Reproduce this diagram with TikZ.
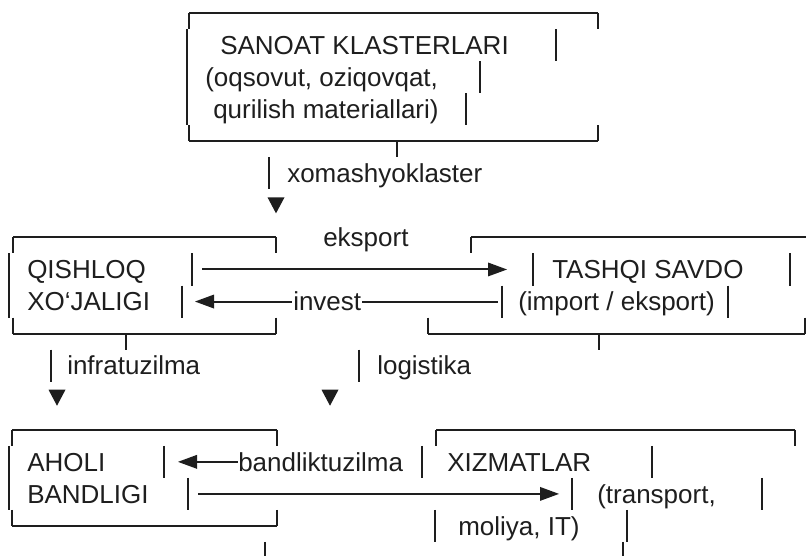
\documentclass[tikz,border=0pt]{standalone}
\usepackage{fontspec}
\setmainfont{Liberation Sans}
\newcommand\Y[1]{13+32.06*(#1)}
\begin{document}
\begin{tikzpicture}[x=0.75pt,y=-0.75pt]
\definecolor{ink}{RGB}{30,30,30}
\tikzset{
  ln/.style={draw=ink,line width=1.5pt},
  txt/.style={anchor=base west,inner sep=0pt,text=ink,font=\fontsize{19.5}{23}\selectfont},
  tri/.style={fill=ink}
}
\useasboundingbox (0,0) rectangle (806,556);
% helpers
\newcommand\mybar[3][]{\draw[ln] (#2,{\Y{#3}-16.03}) -- (#2,{\Y{#3}+16.03});}
\newcommand\tickdn[2]{\draw[ln] (#1,{\Y{#2}}) -- (#1,{\Y{#2}+16.03});}
\newcommand\tickup[2]{\draw[ln] (#1,{\Y{#2}-16.03}) -- (#1,{\Y{#2}});}
\newcommand\hl[3]{\draw[ln] (#1,{\Y{#3}}) -- (#2,{\Y{#3}});}
\newcommand\tridown[2]{\fill[tri] (#1-8.5,{\Y{#2}-8}) -- (#1+8.5,{\Y{#2}-8}) -- (#1,{\Y{#2}+8}) -- cycle;}
\newcommand\triright[2]{\fill[tri] (#1-19,{\Y{#2}-7}) -- (#1,{\Y{#2}}) -- (#1-19,{\Y{#2}+7}) -- cycle;}
\newcommand\trileft[2]{\fill[tri] (#1+19,{\Y{#2}-7}) -- (#1,{\Y{#2}}) -- (#1+19,{\Y{#2}+7}) -- cycle;}

% ---------- top box: SANOAT KLASTERLARI ----------
\hl{189}{598}{0}
\tickdn{189}{0}\tickdn{598}{0}
\draw[ln] (187,{\Y{1}-16.03}) -- (187,{\Y{3}+16.03});
\tickup{189}{4}\tickup{598}{4}
\hl{189}{598}{4}
\tickdn{397}{4}
\node[txt] (sanoat) at (220,{\Y{1}+9.3}) {SANOAT KLASTERLARI};
\mybar{556}{1}
\node[txt] (oqsovut) at (205,{\Y{2}+9.3}) {(oqsovut, oziqovqat,};
\mybar{480}{2}
\node[txt] (qurilish) at (213,{\Y{3}+9.3}) {qurilish materiallari)};
\mybar{466}{3}

% xomashyoklaster
\mybar{269}{5}
\node[txt] (xomashyo) at (287,{\Y{5}+9.3}) {xomashyoklaster};
\tridown{276}{6}

% ---------- QISHLOQ XO'JALIGI box ----------
\hl{13}{276}{7}
\tickdn{13}{7}\tickdn{276}{7}
\draw[ln] (9,{\Y{8}-16.03}) -- (9,{\Y{9}+16.03});
\tickup{13}{10}\tickup{276}{10}
\hl{13}{276}{10}
\tickdn{126}{10}
\node[txt] (qishloq) at (27,{\Y{8}+9.3}) {QISHLOQ};
\node[txt] (xojaligi) at (27,{\Y{9}+9.3}) {XO‘JALIGI};
\mybar{192}{8}
\mybar{182}{9}

% eksport label
\node[txt] (eksport) at (323,{\Y{7}+9.3}) {eksport};

% eksport arrow
\hl{202}{490}{8}
\triright{507}{8}

% invest arrow
\trileft{195}{9}
\hl{212}{292}{9}
\node[txt] (invest) at (293,{\Y{9}+9.3}) {invest};
\hl{362}{498}{9}

% ---------- TASHQI SAVDO box ----------
\hl{471}{806}{7}
\tickdn{471}{7}
\mybar{533}{8}
\node[txt] (tashqi) at (552,{\Y{8}+9.3}) {TASHQI SAVDO};
\mybar{790}{8}
\mybar{502}{9}
\node[txt] (import) at (518,{\Y{9}+9.3}) {(import / eksport)};
\mybar{728}{9}
\tickup{428}{10}\tickup{805}{10}
\hl{428}{805}{10}
\tickdn{599}{10}

% infratuzilma / logistika
\mybar{51}{11}
\node[txt] (infra) at (67,{\Y{11}+9.3}) {infratuzilma};
\tridown{57}{12}
\mybar{359}{11}
\node[txt] (logist) at (377,{\Y{11}+9.3}) {logistika};
\tridown{330}{12}

% ---------- AHOLI BANDLIGI box ----------
\hl{12}{277}{13}
\tickdn{12}{13}\tickdn{277}{13}
\draw[ln] (9,{\Y{14}-16.03}) -- (9,{\Y{15}+16.03});
\tickup{12}{16}\tickup{277}{16}
\hl{12}{277}{16}
\node[txt] (aholi) at (27,{\Y{14}+9.3}) {AHOLI};
\node[txt] (bandligi) at (27,{\Y{15}+9.3}) {BANDLIGI};
\mybar{164}{14}
\mybar{188}{15}
\draw[ln] (265,{\Y{17}-16.03}) -- (265,556);

% bandliktuzilma arrow
\trileft{178}{14}
\hl{195}{238}{14}
\node[txt] (bandlik) at (238,{\Y{14}+9.3}) {bandliktuzilma};
\mybar{422}{14}

% arrow to XIZMATLAR
\hl{198}{543}{15}
\triright{559}{15}

% ---------- XIZMATLAR box ----------
\hl{436}{795}{13}
\tickdn{436}{13}\tickdn{795}{13}
\node[txt] (xizmat) at (447,{\Y{14}+9.3}) {XIZMATLAR};
\mybar{652}{14}
\mybar{572}{15}
\node[txt] (transport) at (597,{\Y{15}+9.3}) {(transport,};
\mybar{762}{15}
\mybar{435}{16}
\node[txt] (moliya) at (458,{\Y{16}+9.3}) {moliya, IT)};
\mybar{627}{16}
\draw[ln] (623,{\Y{17}-16.03}) -- (623,556);
\end{tikzpicture}
\end{document}
